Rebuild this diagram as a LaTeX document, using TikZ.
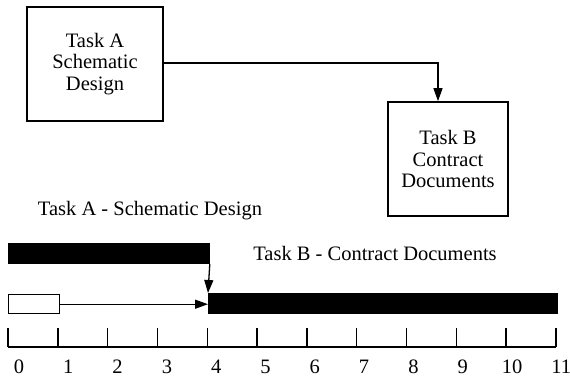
\documentclass[tikz,border=0pt]{standalone}
\usepackage{fontspec}
\setmainfont{Liberation Serif}
\usetikzlibrary{arrows.meta}
\begin{document}
\begin{tikzpicture}[x=1pt,y=-1pt,
  taskbox/.style={draw,line width=1.6pt,inner sep=0pt,align=center,font=\fontsize{20.5}{21.5}\selectfont},
  lbl/.style={font=\fontsize{20.5}{22}\selectfont,inner sep=0pt},
  bar/.style={fill=black,draw=black,line width=0.8pt,inner sep=0pt},
  openbar/.style={draw=black,fill=white,line width=1.4pt,inner sep=0pt},
  conn/.style={line width=1.3pt,-{Triangle[length=13pt,width=9pt]}},
  axis/.style={line width=1.4pt}]
\useasboundingbox (0,0) rectangle (570,379);
% network diagram
\node[taskbox,minimum width=136pt,minimum height=114pt] (A) at (95,64) {Task A\\Schematic\\Design};
\node[taskbox,minimum width=120pt,minimum height=114pt] (B) at (448,159) {Task B\\Contract\\Documents};
\coordinate (bend) at (438,63);
\draw[conn] (A.east |- bend) -- (bend) -- (bend |- B.north);
% gantt
\node[lbl] (la) at (150,211) {Task A - Schematic Design};
\node[lbl] (lb) at (375,253) {Task B - Contract Documents};
\node[bar,minimum width=201pt,minimum height=20pt,anchor=north west] (barA) at (8,243) {};
\node[bar,minimum width=349pt,minimum height=20pt,anchor=north west] (barB) at (208,293) {};
\node[openbar,minimum width=51pt,minimum height=19pt,anchor=north west] (ob) at (8,294) {};
\draw[conn] (barA.south east) -- (barB.north west);
\draw[conn] (ob.east) -- (ob.east -| barB.west);
% axis
\draw[axis] (8,347) -- (555.5,347);
\foreach \i in {0,...,11}{
  \draw[axis] ({8+\i*49.8},328) -- ({8+\i*49.8},347);
  \node[lbl] (t\i) at ({19+\i*49.3},367) {\i};
}
\end{tikzpicture}
\end{document}
